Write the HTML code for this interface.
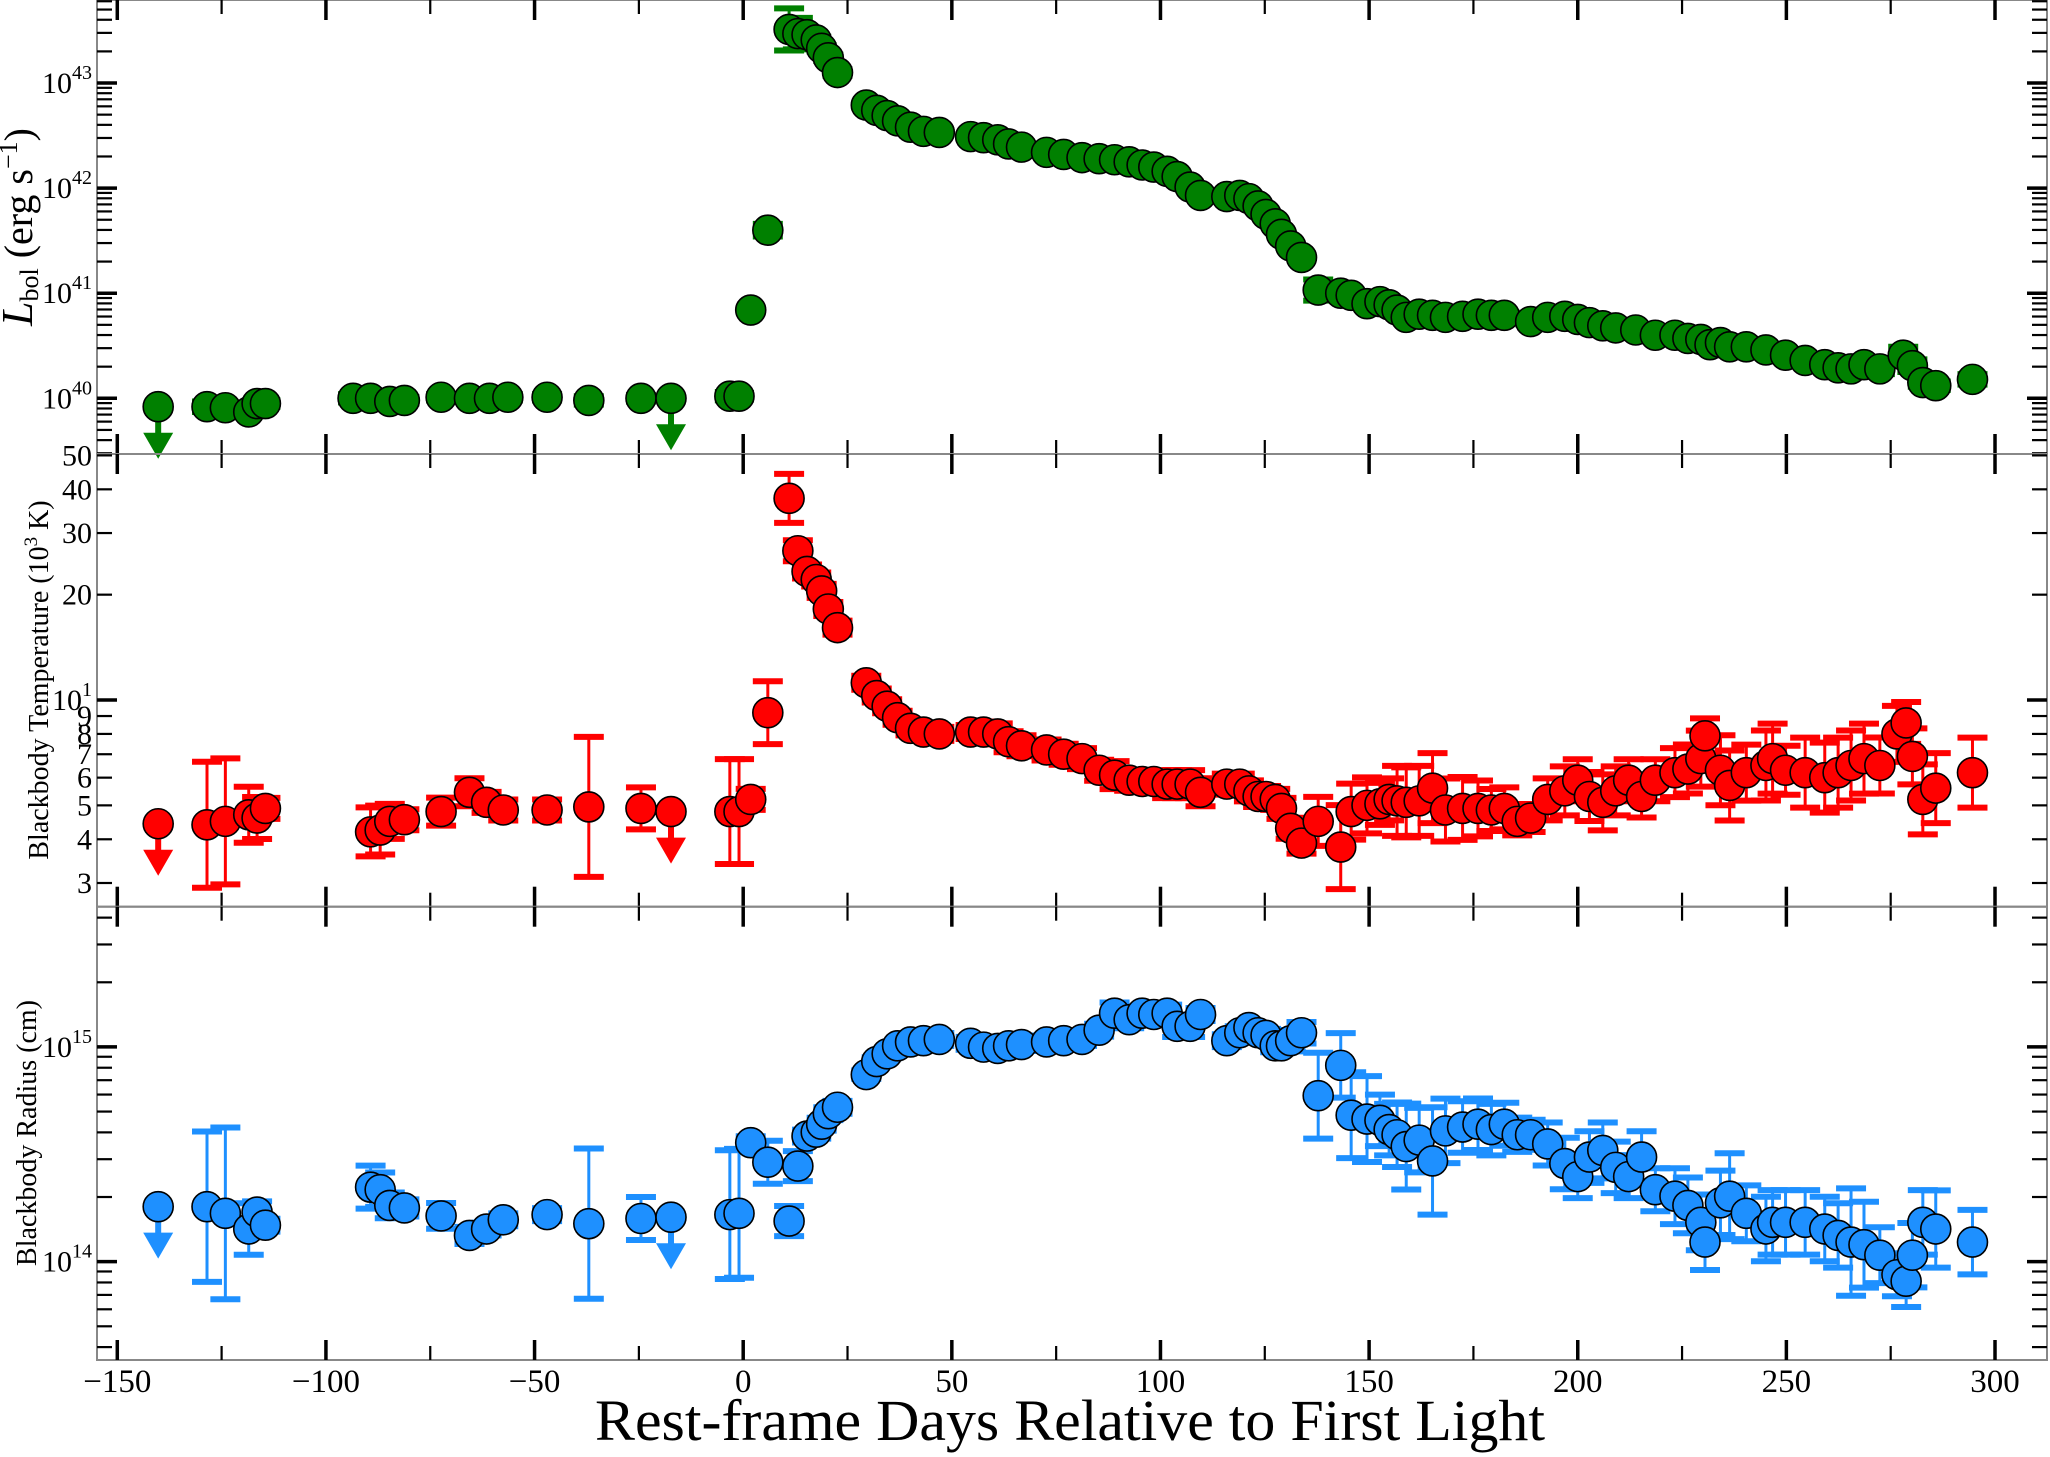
<!DOCTYPE html>
<html><head><meta charset="utf-8"><style>
html,body{margin:0;padding:0;background:#fff;}
svg{display:block;font-family:"Liberation Serif","DejaVu Serif",serif;}
</style></head><body>
<svg id="chart" width="2050" height="1457" viewBox="0 0 2050 1457" xmlns="http://www.w3.org/2000/svg">
<rect x="0" y="0" width="2050" height="1457" fill="#fff"/>
<g id="layer"></g>
<text x="1070" y="1440" font-size="58" text-anchor="middle" textLength="950" lengthAdjust="spacingAndGlyphs">Rest-frame Days Relative to First Light</text>
<text transform="translate(32,227) rotate(-90)" font-size="40" text-anchor="middle"><tspan font-style="italic" font-size="44">L</tspan><tspan font-size="26" dy="6">bol</tspan><tspan dy="-6"> (erg s</tspan><tspan font-size="26" dy="-15">−1</tspan><tspan dy="15">)</tspan></text>
<text transform="translate(48,680) rotate(-90)" font-size="28" text-anchor="middle">Blackbody Temperature (10<tspan font-size="19" dy="-11">3</tspan><tspan dy="11"> K)</tspan></text>
<text transform="translate(36,1133) rotate(-90)" font-size="28" text-anchor="middle">Blackbody Radius (cm)</text>
</svg>
<script>
const lumDays=[-140.2,-128.5,-124.1,-118.5,-116.5,-114.5,-93.5,-89.3,-84.7,-81.2,-72.4,-65.6,-60.8,-56.4,-47,-37,-24.5,-17.3,-3.2,-1,1.8,5.9,11,13.1,15.3,17.5,18.8,20.4,22.6,29.5,32,34.5,37,40.1,43.2,47,54.5,57.6,61,63.6,66.7,72.7,76.8,81.2,85.3,89,92.5,95.6,98.4,101.6,104,107.1,109.6,115.9,119,121.2,123.4,125.3,127.5,129,131.2,133.8,137.8,143.2,145.7,149.5,152.6,154.8,156.7,158.9,162,165.2,168.3,172.4,176.1,179.3,182.4,188.7,192.8,196.9,200,202.8,206,209.1,213.9,218.6,223.3,226.4,229.5,231.7,234.2,236.4,240.4,245.1,249.8,254.5,259.2,262.4,265.5,268.6,272.4,278,280.2,282.7,285.8,294.6];
const lumLog=[39.92,39.92,39.91,39.87,39.95,39.95,40.00,40.00,39.97,39.98,40.01,40.00,40.00,40.01,40.01,39.98,40.00,40.00,40.02,40.02,40.84,41.60,43.51,43.47,43.46,43.41,43.33,43.24,43.10,42.79,42.74,42.69,42.64,42.58,42.54,42.53,42.49,42.48,42.46,42.42,42.39,42.34,42.32,42.29,42.28,42.27,42.25,42.22,42.20,42.16,42.11,42.01,41.93,41.92,41.93,41.90,41.83,41.75,41.66,41.56,41.45,41.34,41.03,41.00,40.98,40.90,40.92,40.89,40.84,40.77,40.80,40.79,40.77,40.78,40.80,40.79,40.79,40.73,40.77,40.78,40.75,40.72,40.69,40.67,40.65,40.60,40.60,40.57,40.56,40.51,40.53,40.49,40.49,40.46,40.41,40.36,40.32,40.29,40.28,40.32,40.28,40.41,40.31,40.15,40.12,40.18];
const lumErr=[0,0.05,0.05,0.04,0.03,0.03,0.04,0.03,0.03,0.03,0.03,0.03,0.03,0.03,0.03,0.04,0.03,0,0.04,0.03,0.02,0.06,0.2,0.15,0.03,0.03,0.03,0.03,0.03,0.02,0.02,0.02,0.02,0.02,0.02,0.02,0.02,0.02,0.02,0.02,0.02,0.02,0.02,0.02,0.02,0.02,0.02,0.02,0.02,0.02,0.02,0.02,0.02,0.02,0.02,0.02,0.02,0.02,0.02,0.02,0.02,0.02,0.1,0.04,0.03,0.03,0.03,0.03,0.03,0.03,0.03,0.03,0.03,0.03,0.03,0.03,0.03,0.03,0.03,0.03,0.03,0.03,0.03,0.03,0.03,0.03,0.03,0.03,0.03,0.05,0.03,0.03,0.03,0.03,0.03,0.05,0.05,0.05,0.07,0.07,0.05,0.08,0.06,0.04,0.04,0.05];
const lumUL=[-140.2,-17.3];

const tDays=[-140.2,-128.5,-124.1,-118.5,-116.5,-114.5,-89.3,-87,-84.7,-81.2,-72.4,-65.6,-61.5,-57.5,-47,-37,-24.5,-17.3,-3.2,-1,1.8,5.9,11,13.1,15.3,17.5,18.8,20.4,22.6,29.5,32,34.5,37,40.1,43.2,47,54.5,57.6,61,63.6,66.7,72.7,76.8,81.2,85.3,89,92.5,95.6,98.4,101.6,104,107.1,109.6,115.9,119,121.2,123.4,125.3,127.5,129,131.2,133.8,137.8,143.2,145.7,149.5,152.6,154.8,156.7,158.9,162,165.2,168.3,172.4,176.1,179.3,182.4,185.5,188.7,192.8,196.9,200,202.8,206,209.1,212.2,215.3,218.6,223.3,226.4,229.5,230.5,234.2,236.4,240.4,245.1,246.7,249.8,254.5,259.2,262.4,265.5,268.6,272.4,276.5,278.7,280.2,282.7,285.8,294.6];
const tempK=[4.43,4.4,4.5,4.7,4.6,4.9,4.2,4.25,4.5,4.55,4.8,5.45,5.1,4.85,4.85,4.95,4.9,4.8,4.8,4.8,5.2,9.2,37.7,26.7,23.3,22.1,20.5,18.2,16.1,11.2,10.3,9.6,8.9,8.3,8.1,8.0,8.1,8.1,8.0,7.6,7.4,7.2,7.0,6.8,6.3,6.1,5.9,5.85,5.85,5.75,5.75,5.75,5.45,5.75,5.75,5.5,5.3,5.3,5.2,4.9,4.3,3.9,4.5,3.8,4.8,5.0,5.05,5.2,5.15,5.1,5.15,5.6,4.85,4.9,4.9,4.85,4.9,4.5,4.6,5.2,5.5,5.9,5.3,5.1,5.5,5.9,5.3,5.9,6.2,6.35,6.8,7.9,6.3,5.7,6.2,6.5,6.8,6.3,6.2,6.0,6.2,6.5,6.8,6.5,8.0,8.6,6.9,5.2,5.6,6.2];
const tempErr=[0,0.18,0.18,0.08,0.06,0.03,0.07,0.07,0.05,0.03,0.04,0.04,0.03,0.03,0.03,0.2,0.06,0,0.15,0.15,0.03,0.09,0.07,0.03,0.02,0.02,0.02,0.02,0.02,0.02,0.02,0.02,0.02,0.02,0.02,0.02,0.02,0.03,0.03,0.03,0.03,0.03,0.03,0.03,0.03,0.04,0.03,0.03,0.03,0.04,0.04,0.04,0.04,0.03,0.03,0.03,0.03,0.03,0.03,0.03,0.03,0.03,0.07,0.12,0.08,0.08,0.06,0.06,0.1,0.1,0.1,0.1,0.09,0.09,0.08,0.06,0.06,0.04,0.04,0.06,0.07,0.06,0.07,0.08,0.07,0.06,0.06,0.06,0.07,0.07,0.08,0.05,0.1,0.1,0.08,0.1,0.1,0.07,0.1,0.1,0.1,0.1,0.1,0.08,0.08,0.06,0.08,0.1,0.1,0.1];
const tempUL=[-140.2,-17.3];

const rDays=tDays;
const radLog=[14.256,14.256,14.225,14.152,14.231,14.170,14.347,14.335,14.262,14.250,14.213,14.122,14.152,14.195,14.219,14.177,14.201,14.207,14.219,14.225,14.554,14.463,14.189,14.445,14.585,14.603,14.640,14.689,14.719,14.871,14.932,14.968,15.005,15.023,15.029,15.035,15.017,14.999,14.993,15.005,15.011,15.023,15.029,15.035,15.078,15.157,15.127,15.157,15.151,15.157,15.096,15.096,15.151,15.029,15.066,15.090,15.066,15.054,15.005,15.005,15.029,15.066,14.773,14.914,14.682,14.664,14.658,14.615,14.591,14.536,14.566,14.469,14.609,14.627,14.640,14.615,14.640,14.591,14.591,14.548,14.457,14.396,14.487,14.518,14.439,14.396,14.487,14.335,14.305,14.262,14.183,14.091,14.274,14.305,14.225,14.152,14.183,14.183,14.183,14.152,14.122,14.091,14.079,14.030,13.939,13.909,14.030,14.183,14.152,14.091];
const radErr=[0,0.35,0.4,0.12,0.05,0.03,0.1,0.08,0.06,0.04,0.06,0.04,0.03,0.03,0.03,0.35,0.1,0,0.3,0.3,0.03,0.1,0.07,0.07,0.03,0.03,0.03,0.03,0.03,0.02,0.02,0.02,0.02,0.02,0.03,0.03,0.03,0.04,0.04,0.03,0.03,0.03,0.03,0.03,0.03,0.05,0.04,0.03,0.03,0.04,0.05,0.05,0.03,0.03,0.03,0.03,0.03,0.03,0.03,0.03,0.05,0.05,0.2,0.15,0.2,0.2,0.12,0.12,0.15,0.2,0.15,0.25,0.15,0.12,0.12,0.12,0.1,0.08,0.07,0.1,0.12,0.1,0.12,0.13,0.12,0.1,0.12,0.1,0.13,0.13,0.13,0.13,0.15,0.2,0.13,0.15,0.15,0.15,0.15,0.15,0.15,0.25,0.2,0.13,0.1,0.12,0.15,0.15,0.18,0.15];
const radUL=[-140.2,-17.3];

const NS='http://www.w3.org/2000/svg';
const layer=document.getElementById('layer');
const AX_L=97, AX_R=2047;
function xScale(d){return 743.2+d*4.1727;}
function mk(tag,attrs,parent){const e=document.createElementNS(NS,tag);for(const k in attrs)e.setAttribute(k,attrs[k]);(parent||layer).appendChild(e);return e;}

const panels=[
 {name:'luminosity',top:0,bot:454,lo:39.47,hi:43.79,color:'#008000',days:lumDays,vals:lumLog,errs:lumErr,ul:lumUL,isLog:true},
 {name:'temperature',top:454,bot:906.7,lo:0.4094,hi:1.703,color:'#ff0000',days:tDays,vals:tempK,errs:tempErr,ul:tempUL,isLog:false},
 {name:'radius',top:906.7,bot:1360,lo:13.542,hi:15.653,color:'#1e90ff',days:rDays,vals:radLog,errs:radErr,ul:radUL,isLog:true}
];

panels.forEach((p,pi)=>{
 const g=mk('g',{});
 
 
 const yS=v=>p.bot-(v-p.lo)/(p.hi-p.lo)*(p.bot-p.top);
 const lv=i=>p.isLog?p.vals[i]:Math.log10(p.vals[i]);
 const eg=mk('g',{},g);
 
 
 p.days.forEach((d,i)=>{
  const e=p.errs[i]; if(!e) return;
  const x=xScale(d), y1=yS(lv(i)+e), y2=Math.min(yS(lv(i)-e),p.bot);
  mk('line',{x1:x,x2:x,y1:y1,y2:y2,stroke:p.color,'stroke-width':3},eg);
  mk('line',{x1:x-15,x2:x+15,y1:y1,y2:y1,stroke:p.color,'stroke-width':6},eg);
  if(y2<p.bot) mk('line',{x1:x-15,x2:x+15,y1:y2,y2:y2,stroke:p.color,'stroke-width':6},eg);
 });
 p.ul.forEach(d=>{
  const i=p.days.indexOf(d); if(i<0) return;
  const x=xScale(d), y=yS(lv(i));
  const a=mk('g',{},g);
  
  
  mk('line',{x1:x,x2:x,y1:y,y2:y+32,stroke:p.color,'stroke-width':6},a);
  mk('polygon',{points:`${x-15},${y+26} ${x+15},${y+26} ${x},${y+52}`,fill:p.color},a);
 });
 const mg=mk('g',{},g);
 
 
 p.days.forEach((d,i)=>{
  const c=mk('circle',{cx:xScale(d),cy:yS(lv(i)),r:15,fill:p.color,stroke:'#000','stroke-width':1.6},mg);
  
  
 });
 const fr=mk('rect',{x:AX_L,y:p.top,width:AX_R-AX_L,height:p.bot-p.top,fill:'none',stroke:'#888','stroke-width':2},g);
 
 
 for(let d=-150;d<=300;d+=25){
  const x=xScale(d), major=d%50===0, L=major?20:14, w=major?3.5:2.2;
  mk('line',{x1:x,x2:x,y1:p.top,y2:p.top+L,stroke:'#000','stroke-width':w},g);
  mk('line',{x1:x,x2:x,y1:p.bot,y2:p.bot-L,stroke:'#000','stroke-width':w},g);
 }
 const yt=(v,major)=>{const y=yS(v); if(y<p.top-0.5||y>p.bot+0.5) return; const L=major?20:15,w=major?3.5:2.2;
  mk('line',{x1:AX_L,x2:AX_L+L,y1:y,y2:y,stroke:'#000','stroke-width':w},g);
  mk('line',{x1:AX_R,x2:AX_R-L,y1:y,y2:y,stroke:'#000','stroke-width':w},g);};
 const lab=(v,main,sup)=>{const y=yS(v); const t=mk('text',{x:92,y:y+10,'font-size':30,'text-anchor':'end'},g);
  
  
  t.textContent=main; if(sup){const s=mk('tspan',{'font-size':20,dy:-14},t); s.textContent=sup;}};
 if(p.isLog){
  for(let n=Math.floor(p.lo);n<=Math.ceil(p.hi);n++){
   yt(n,true); if(n>=p.lo&&n<=p.hi) lab(n,'10',String(n));
   for(let k=2;k<=9;k++) yt(n+Math.log10(k),false);
  }
 } else {
  const tv=[3,4,5,6,7,8,9,20,30,40,50];
  tv.forEach(v=>{yt(Math.log10(v),false); lab(Math.log10(v),String(v),null);});
  yt(1,true); lab(1,'10','1');
 }
});
for(let d=-150;d<=300;d+=50){
 const t=mk('text',{x:xScale(d),y:1392,'font-size':33,'text-anchor':'middle'});
 
 
 t.textContent=d<0?'−'+Math.abs(d):String(d);
}
</script>
</body></html>
